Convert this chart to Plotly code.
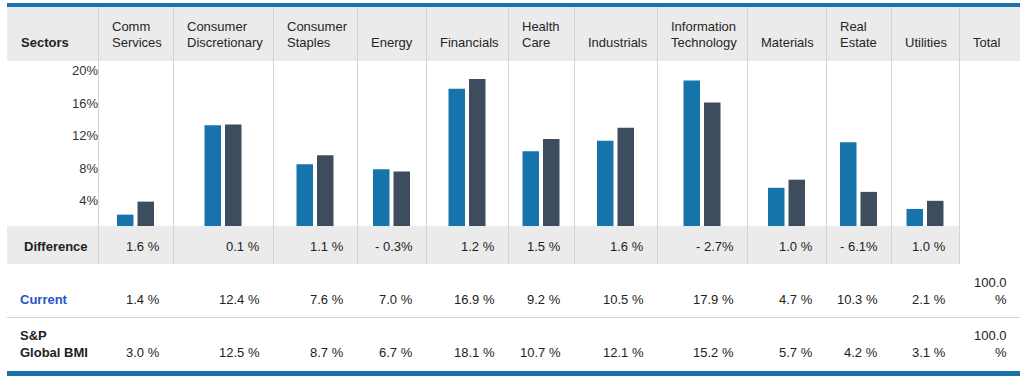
import plotly.graph_objects as go

# ---------------- data ----------------
sectors = ["Comm\nServices", "Consumer\nDiscretionary", "Consumer\nStaples", "Energy",
           "Financials", "Health\nCare", "Industrials", "Information\nTechnology",
           "Materials", "Real\nEstate", "Utilities"]
current = [1.4, 12.4, 7.6, 7.0, 16.9, 9.2, 10.5, 17.9, 4.7, 10.3, 2.1]
benchmark = [3.0, 12.5, 8.7, 6.7, 18.1, 10.7, 12.1, 15.2, 5.7, 4.2, 3.1]
total_current = "100.0\n%"
total_benchmark = "100.0\n%"
ytick_vals = [4, 8, 12, 16, 20]
ytick_text = ["4%", "8%", "12%", "16%", "20%"]
row_labels = ["Difference", "Current", "S&P\nGlobal BMI"]

# ---------------- layout constants (pixels) ----------------
W, H = 1024, 380
col_edges = [7, 98, 173, 273, 357, 426, 508, 574, 657, 747, 826, 891, 959, 1020]
CHART_TOP, CHART_BOT = 61, 226
PX_PER_PCT = 8.125
BLUE = "#1674ab"
DARK = "#3e4d5e"
GRAY_BG = "#ebebeb"
LINE = "#d4d4d4"
TXT = "#222222"
FONT = "Liberation Sans, Arial, sans-serif"


def px(x):
    return x / W


def py(y):
    return 1 - y / H


centers = [(col_edges[i + 1] + col_edges[i + 2]) / 2 for i in range(len(sectors))]

fig = go.Figure()
fig.add_trace(go.Bar(x=centers, y=current, width=16.5, offset=-18.5,
                     marker=dict(color=BLUE, line=dict(width=0)), name="Current",
                     hovertemplate="%{y:.1f}%<extra>Current</extra>"))
fig.add_trace(go.Bar(x=centers, y=benchmark, width=16.5, offset=2,
                     marker=dict(color=DARK, line=dict(width=0)), name="S&P Global BMI",
                     hovertemplate="%{y:.1f}%<extra>S&P Global BMI</extra>"))

shapes = []


def rect(x0, y0, x1, y1, color):
    shapes.append(dict(type="rect", xref="paper", yref="paper", x0=px(x0), x1=px(x1),
                       y0=py(y1), y1=py(y0), fillcolor=color, line=dict(width=0),
                       layer="below"))


def line(x0, y0, x1, y1, color=LINE):
    shapes.append(dict(type="line", xref="paper", yref="paper", x0=px(x0), x1=px(x1),
                       y0=py(y0), y1=py(y1), line=dict(color=color, width=1),
                       layer="below"))


# header band + top rule
rect(7, 7, 1020, 61, GRAY_BG)
rect(7, 3, 1020, 7, BLUE)
# difference row band
rect(7, 226, 959, 264, GRAY_BG)
# vertical separators
for e in col_edges[1:-1]:
    line(e + 0.5, 7, e + 0.5, 264)
# separator between current and benchmark rows
line(7, 317.5, 1020, 317.5)
# bottom rule
rect(7, 371, 1020, 376, BLUE)

annotations = []


def text(x, y, s, anchor="left", bold=False, color=TXT, size=13):
    if bold:
        s = "<b>" + s + "</b>"
    annotations.append(dict(x=px(x), y=py(y), xref="paper", yref="paper", text=s,
                            showarrow=False, xanchor=anchor, yanchor="middle",
                            font=dict(family=FONT, size=size, color=color)))


def multiline(x, y_last, s, anchor="left", bold=False, color=TXT, gap=15.5):
    parts = s.split("\n")
    n = len(parts)
    for i, p in enumerate(parts):
        text(x, y_last - (n - 1 - i) * gap, p, anchor, bold, color)


# header
text(19, 42, "Sectors", bold=True)
for i, s in enumerate(sectors):
    multiline(col_edges[i + 1] + 12, 42, s, color="#262626")
text(col_edges[12] + 12, 42, "Total", color="#262626")

# rows
text(22, 246, row_labels[0], bold=True)
text(18, 299, row_labels[1], bold=True, color="#2456c8")
multiline(18, 352, row_labels[2], bold=True, gap=16.5)

for i in range(len(sectors)):
    right = col_edges[i + 2] - 11
    d = round(benchmark[i] - current[i], 1)
    dtxt = f"- {abs(d):.1f}%" if d < 0 else f"{d:.1f} %"
    text(right, 246, dtxt, anchor="right")
    text(right, 299, f"{current[i]:.1f} %", anchor="right")
    text(right, 352, f"{benchmark[i]:.1f} %", anchor="right")

multiline(1009, 299, total_current, anchor="right", gap=17)
multiline(1009, 352, total_benchmark, anchor="right", gap=17)

fig.update_layout(
    width=W, height=H, margin=dict(l=0, r=0, t=0, b=0),
    paper_bgcolor="white", plot_bgcolor="rgba(0,0,0,0)",
    showlegend=False, barmode="overlay",
    shapes=shapes, annotations=annotations,
    xaxis=dict(range=[0, W], domain=[0, 1], visible=False, fixedrange=True),
    yaxis=dict(domain=[py(CHART_BOT), py(CHART_TOP)],
               range=[0, (CHART_BOT - CHART_TOP) / PX_PER_PCT],
               tickvals=ytick_vals, ticktext=ytick_text,
               ticklabelposition="outside bottom", ticklabelshift=-2,
               anchor="free", position=px(98),
               showgrid=False, zeroline=False, showline=False, ticks="",
               tickfont=dict(family=FONT, size=13, color="#333333"),
               fixedrange=True),
)

fig.write_html("out.html", config={"displayModeBar": False},
               post_script="document.body.style.margin='0';document.body.style.overflow='hidden';")
